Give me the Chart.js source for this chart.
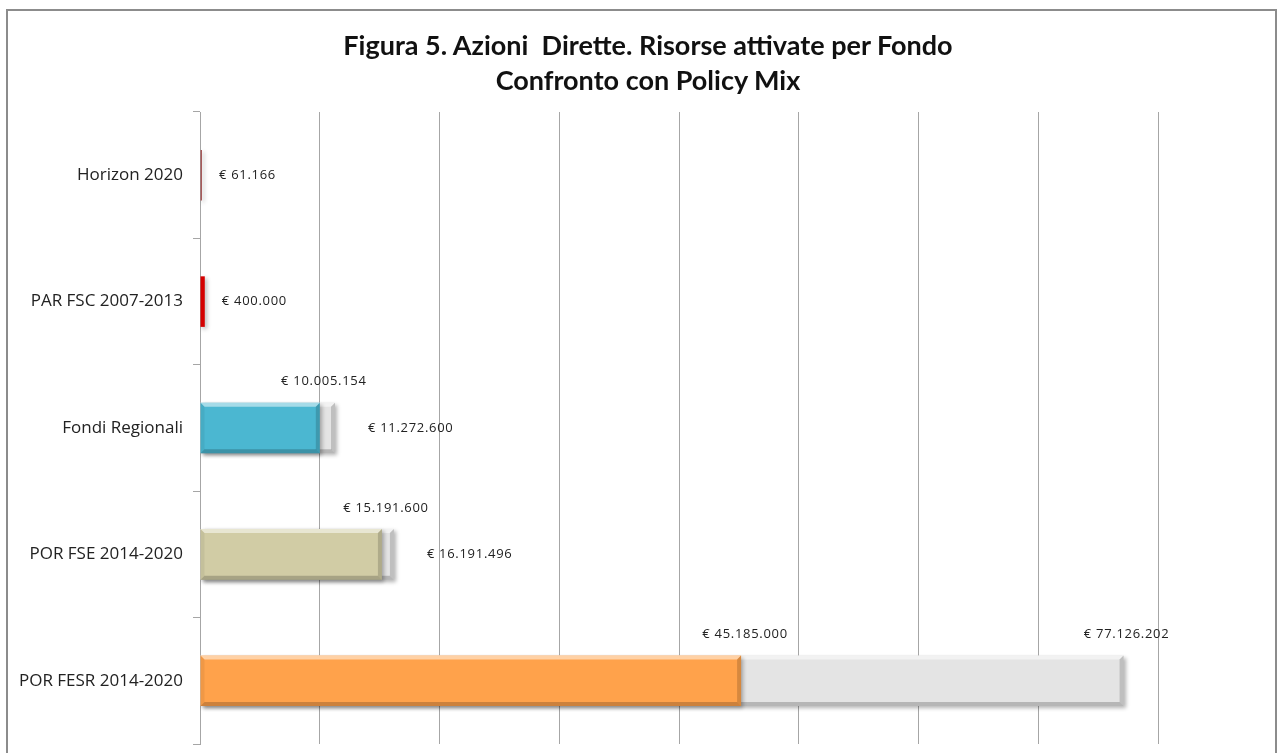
<!DOCTYPE html>
<html>
<head>
<meta charset="utf-8">
<script src="https://cdn.jsdelivr.net/npm/chart.js@4/dist/chart.umd.min.js"></script>
<style>
  html, body { margin: 0; padding: 0; background: #fff; overflow: hidden; }
  #wrap { position: relative; width: 1284px; height: 753px; }
  #frame { position: absolute; left: 6px; top: 9px; width: 1271px; height: 800px; border: 2px solid #8c8c8c; box-sizing: border-box; pointer-events: none; }
  #title {
    position: absolute; left: 0; top: 27px; width: 1296px; text-align: center;
    font-family: Lato, sans-serif; font-weight: bold; font-size: 27px; line-height: 35px; color: #111;
  }
</style>
</head>
<body>
<div id="wrap">
  <canvas id="chart" width="1284" height="753"></canvas>
  <div id="title">Figura 5. Azioni&nbsp; Dirette. Risorse attivate per Fondo<br>Confronto con Policy Mix</div>
  <div id="frame"></div>
</div>
<script>
const categorie = [
  "Horizon 2020",
  "PAR FSC 2007-2013",
  "Fondi Regionali",
  "POR FSE 2014-2020",
  "POR FESR 2014-2020"
];

// risorse attivate (barre colorate)
const risorseAttivate = [61166, 400000, 10005154, 15191600, 45185000];

// policy mix (barre grigie dietro)
const policyMix = [null, null, 11272600, 16191496, 77126202];

const coloriBarre = ["#a65a5a", "#d40000", "#4bb7d1", "#d1cca5", "#ffa24b"];
const coloreGrigio = "#e4e4e4";

// dove mettere l'etichetta del valore
const posAttivate = ["right", "right", "top", "top", "top"];
const posPolicy = [null, null, "right", "right", "top"];

function formatEuro(value) {
  return "€ " + String(value).replace(/\B(?=(\d{3})+(?!\d))/g, ".");
}

const bevelPlugin = {
  id: "bevel",
  beforeDatasetDraw: function (chart) {
    const ctx = chart.ctx;
    ctx.save();
    ctx.shadowColor = "rgba(0,0,0,0.3)";
    ctx.shadowBlur = 4;
    ctx.shadowOffsetX = 2;
    ctx.shadowOffsetY = 2;
  },
  afterDatasetDraw: function (chart, args) {
    const ctx = chart.ctx;
    ctx.restore();

    const meta = chart.getDatasetMeta(args.index);

    meta.data.forEach(function (bar) {
      const p = bar.getProps(["x", "y", "base", "height"], true);
      if (p.x === undefined || isNaN(p.x)) {
        return;
      }
      const l = Math.min(p.base, p.x);
      const r = Math.max(p.base, p.x);
      const t = p.y - p.height / 2;
      const b = p.y + p.height / 2;

      if (r - l < 10) {
        return;
      }

      const s = 4;

      ctx.save();
      ctx.fillStyle = "rgba(255,255,255,0.5)";
      ctx.beginPath();
      ctx.moveTo(l, t); ctx.lineTo(r, t); ctx.lineTo(r - s, t + s); ctx.lineTo(l + s, t + s);
      ctx.closePath();
      ctx.fill();

      ctx.fillStyle = "rgba(0,0,0,0.06)";
      ctx.beginPath();
      ctx.moveTo(l, t); ctx.lineTo(l + s, t + s); ctx.lineTo(l + s, b - s); ctx.lineTo(l, b);
      ctx.closePath();
      ctx.fill();

      ctx.fillStyle = "rgba(0,0,0,0.16)";
      ctx.beginPath();
      ctx.moveTo(r, t); ctx.lineTo(r, b); ctx.lineTo(r - s, b - s); ctx.lineTo(r - s, t + s);
      ctx.closePath();
      ctx.fill();

      ctx.fillStyle = "rgba(0,0,0,0.2)";
      ctx.beginPath();
      ctx.moveTo(l, b); ctx.lineTo(r, b); ctx.lineTo(r - s, b - s); ctx.lineTo(l + s, b - s);
      ctx.closePath();
      ctx.fill();
      ctx.restore();
    });
  }
};

const labelPlugin = {
  id: "valueLabels",
  afterDatasetsDraw: function (chart) {
    const ctx = chart.ctx;
    ctx.save();
    ctx.font = "13px 'Open Sans'";
    ctx.letterSpacing = "0.7px";
    ctx.fillStyle = "#222";

    chart.data.datasets.forEach(function (ds, i) {
      const meta = chart.getDatasetMeta(i);
      const positions = i === 0 ? posAttivate : posPolicy;

      meta.data.forEach(function (bar, j) {
        const value = ds.data[j];
        if (value === null) {
          return;
        }
        const p = bar.getProps(["x", "y", "height"], true);
        const text = formatEuro(value);

        if (positions[j] === "right") {
          ctx.textAlign = "left";
          ctx.textBaseline = "middle";
          ctx.fillText(text, p.x + (i === 0 ? 17 : 33), p.y);
        } else {
          ctx.textAlign = "center";
          ctx.textBaseline = "middle";
          ctx.fillText(text, p.x + (i === 0 ? 4 : 3), p.y - p.height / 2 - 21);
        }
      });
    });

    ctx.restore();
  }
};

new Chart(document.getElementById("chart"), {
  type: "bar",
  data: {
    labels: categorie,
    datasets: [
      {
        label: "Risorse attivate",
        data: risorseAttivate,
        backgroundColor: coloriBarre,
        borderWidth: 0,
        minBarLength: 2,
        grouped: false,
        barPercentage: 1,
        categoryPercentage: 0.4,
        order: 0
      },
      {
        label: "Policy Mix",
        data: policyMix,
        backgroundColor: coloreGrigio,
        borderWidth: 0,
        grouped: false,
        barPercentage: 1,
        categoryPercentage: 0.4,
        order: 1
      }
    ]
  },
  plugins: [bevelPlugin, labelPlugin],
  options: {
    indexAxis: "y",
    responsive: false,
    animation: false,
    devicePixelRatio: 1,
    layout: {
      padding: { left: 8, right: 126, top: 112, bottom: 9 }
    },
    plugins: {
      legend: { display: false },
      tooltip: { enabled: false },
      title: { display: false }
    },
    scales: {
      x: {
        min: 0,
        max: 80000000,
        afterFit: function (scale) {
          scale.height = 0;
        },
        ticks: { display: false, stepSize: 10000000 },
        grid: { color: "#a6a6a6", drawTicks: false },
        border: { display: false }
      },
      y: {
        afterFit: function (scale) {
          scale.width = 192;
          scale.paddingTop = 0;
          scale.paddingBottom = 0;
        },
        ticks: {
          color: "#222",
          padding: 10,
          font: { family: "Open Sans", size: 17 }
        },
        grid: { drawOnChartArea: false, color: "#a6a6a6", tickLength: 7 },
        border: { display: true, color: "#a6a6a6" }
      }
    }
  }
});
</script>
</body>
</html>
